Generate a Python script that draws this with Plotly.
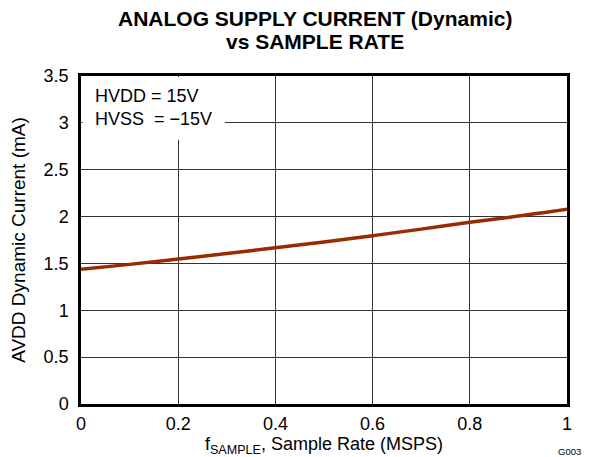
import plotly.graph_objects as go

sample_rate = [0.0, 0.1, 0.2, 0.3, 0.4, 0.5, 0.6, 0.7, 0.8, 0.9, 1.0]
avdd_current = [1.437, 1.49, 1.547, 1.605, 1.668, 1.728, 1.796, 1.866, 1.94, 2.005, 2.078]
x_ticks = [0, 0.2, 0.4, 0.6, 0.8, 1]
x_tick_labels = ["0", "0.2", "0.4", "0.6", "0.8", "1"]
y_ticks = [0, 0.5, 1, 1.5, 2, 2.5, 3, 3.5]
y_tick_labels = ["0", "0.5", "1", "1.5", "2", "2.5", "3", "3.5"]

FONT = "Liberation Sans, Arial, sans-serif"

fig = go.Figure()
fig.add_trace(go.Scatter(x=sample_rate, y=avdd_current, mode="lines",
                         line=dict(color="#992b00", width=3.5), line_shape="spline",
                         showlegend=False, hoverinfo="skip"))

fig.add_shape(type="rect", xref="x", yref="y", x0=0.003, x1=0.296, y0=2.82, y1=3.49,
              fillcolor="white", line=dict(width=0), layer="between")

fig.add_annotation(xref="paper", yref="paper", x=0.024, y=0.975, xanchor="left", yanchor="top",
                   text="HVDD = 15V<br>HVSS  = \u221215V", showarrow=False, align="left",
                   font=dict(family=FONT, size=18, color="black"))

fig.add_annotation(xref="paper", yref="paper", x=1.006, y=-0.146, xanchor="center", yanchor="middle",
                   text="G003", showarrow=False, font=dict(family=FONT, size=9.5, color="black"))

# Title lines
fig.add_annotation(xref="paper", yref="paper", x=0.481, y=1 + (68 - 11) / 328, xanchor="center", yanchor="middle",
                   text="<b>ANALOG SUPPLY CURRENT (Dynamic)</b>", showarrow=False,
                   font=dict(family=FONT, size=21, color="black"))
fig.add_annotation(xref="paper", yref="paper", x=0.481, y=1 + (68 - 34) / 328, xanchor="center", yanchor="middle",
                   text="<b>vs SAMPLE RATE</b>", showarrow=False,
                   font=dict(family=FONT, size=21, color="black"))

fig.update_layout(
    width=582, height=449,
    margin=dict(l=73, r=23, t=68, b=53, autoexpand=False),
    paper_bgcolor="white", plot_bgcolor="white",
    font=dict(family=FONT, size=18, color="black"),
    xaxis=dict(range=[0, 1], tickvals=x_ticks, ticktext=x_tick_labels, automargin=False,
               showgrid=True, gridcolor="#333333", gridwidth=1,
               showline=True, linecolor="black", linewidth=2.5, mirror=True,
               ticks="", zeroline=False, ticklabelstandoff=2,
               title=dict(text="f<sub>SAMPLE</sub>, Sample Rate (MSPS)", standoff=4,
                          font=dict(family=FONT, size=18))),
    yaxis=dict(range=[0, 3.5], tickvals=y_ticks, ticktext=y_tick_labels, automargin=False,
               showgrid=True, gridcolor="#333333", gridwidth=1,
               showline=True, linecolor="black", linewidth=2.5, mirror=True,
               ticks="", zeroline=False, ticklabelstandoff=6,
               title=dict(text="AVDD Dynamic Current (mA)", standoff=14,
                          font=dict(family=FONT, size=19))),
)

fig.write_html("out.html")
